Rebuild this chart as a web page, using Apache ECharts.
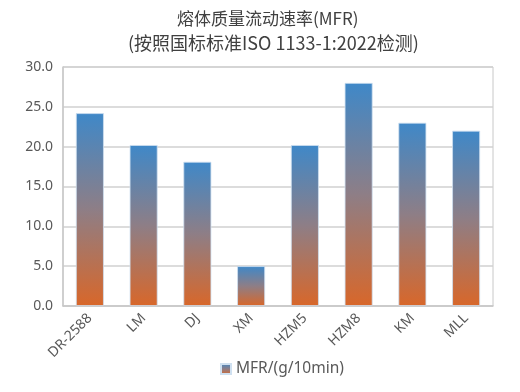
<!DOCTYPE html>
<html><head><meta charset="utf-8">
<script src="https://cdn.jsdelivr.net/npm/echarts@6/dist/echarts.min.js"></script>
<style>html,body{margin:0;padding:0;background:#fff}#c{width:520px;height:392px}</style>
</head><body><div id="c"></div>
<script>
var titleLines = ['熔体质量流动速率(MFR)', '(按照国标标准ISO 1133-1:2022检测)'];
var categories = ['DR-2588', 'LM', 'DJ', 'XM', 'HZM5', 'HZM8', 'KM', 'MLL'];
var seriesName = 'MFR/(g/10min)';
var mfrValues = [24.2, 20.2, 18.1, 5.0, 20.2, 28.0, 23.0, 22.0];
var yTicks = { min: 0, max: 30, interval: 5 };

var titleFont = 'Noto Sans CJK SC';
var titleSizes = [17, 18];
var titleCenters = [268, 273];
var titleTops = [5, 29];
function measure(txt, size) {
  var ctx = document.createElement('canvas').getContext('2d');
  ctx.font = size + 'px "' + titleFont + '"';
  return ctx.measureText(txt).width;
}
var titles = titleLines.map(function (t, i) {
  var w = measure(t, titleSizes[i]);
  return {
    text: t, top: titleTops[i], left: Math.round(titleCenters[i] - w / 2 - 5),
    textStyle: { fontSize: titleSizes[i], fontWeight: 'normal', color: '#404040', fontFamily: titleFont }
  };
});

var grad = new echarts.graphic.LinearGradient(0, 0, 0, 1, [
  { offset: 0, color: '#3f88c8' },
  { offset: 0.5, color: '#8e7e86' },
  { offset: 1, color: '#d8672a' }
]);
var chart = echarts.init(document.getElementById('c'));
chart.setOption({
  animation: false,
  textStyle: { fontFamily: 'Noto Sans CJK SC, Noto Sans, sans-serif' },
  title: titles,
  grid: { left: 63, right: 27, top: 67, bottom: 86, show: true, borderColor: '#c8c8c8', borderWidth: 1 },
  legend: {
    bottom: 10, left: 215, itemWidth: 10, itemHeight: 10, itemGap: 5,
    textStyle: { fontSize: 15.5, color: '#595959', fontFamily: 'Noto Sans' },
    data: [{ name: seriesName, icon: 'rect' }]
  },
  xAxis: {
    type: 'category', data: categories,
    axisLine: { lineStyle: { color: '#c8c8c8', width: 1.5 } },
    axisTick: { show: false },
    axisLabel: { rotate: 45, fontSize: 14, color: '#595959', margin: 10, fontFamily: 'Noto Sans' }
  },
  yAxis: {
    type: 'value', min: yTicks.min, max: yTicks.max, interval: yTicks.interval,
    axisLine: { show: true, lineStyle: { color: '#c8c8c8', width: 1.5 } },
    axisTick: { show: false },
    splitLine: { lineStyle: { color: '#d0d0d0', width: 1.5 } },
    axisLabel: { fontSize: 14, color: '#595959', margin: 10, fontFamily: 'Noto Sans', formatter: function (v) { return v.toFixed(1); } }
  },
  series: [{
    name: seriesName, type: 'bar', data: mfrValues, barWidth: '52%',
    itemStyle: { color: grad, borderColor: '#cfe0f0', borderWidth: 0.8 }
  }]
});
</script></body></html>
